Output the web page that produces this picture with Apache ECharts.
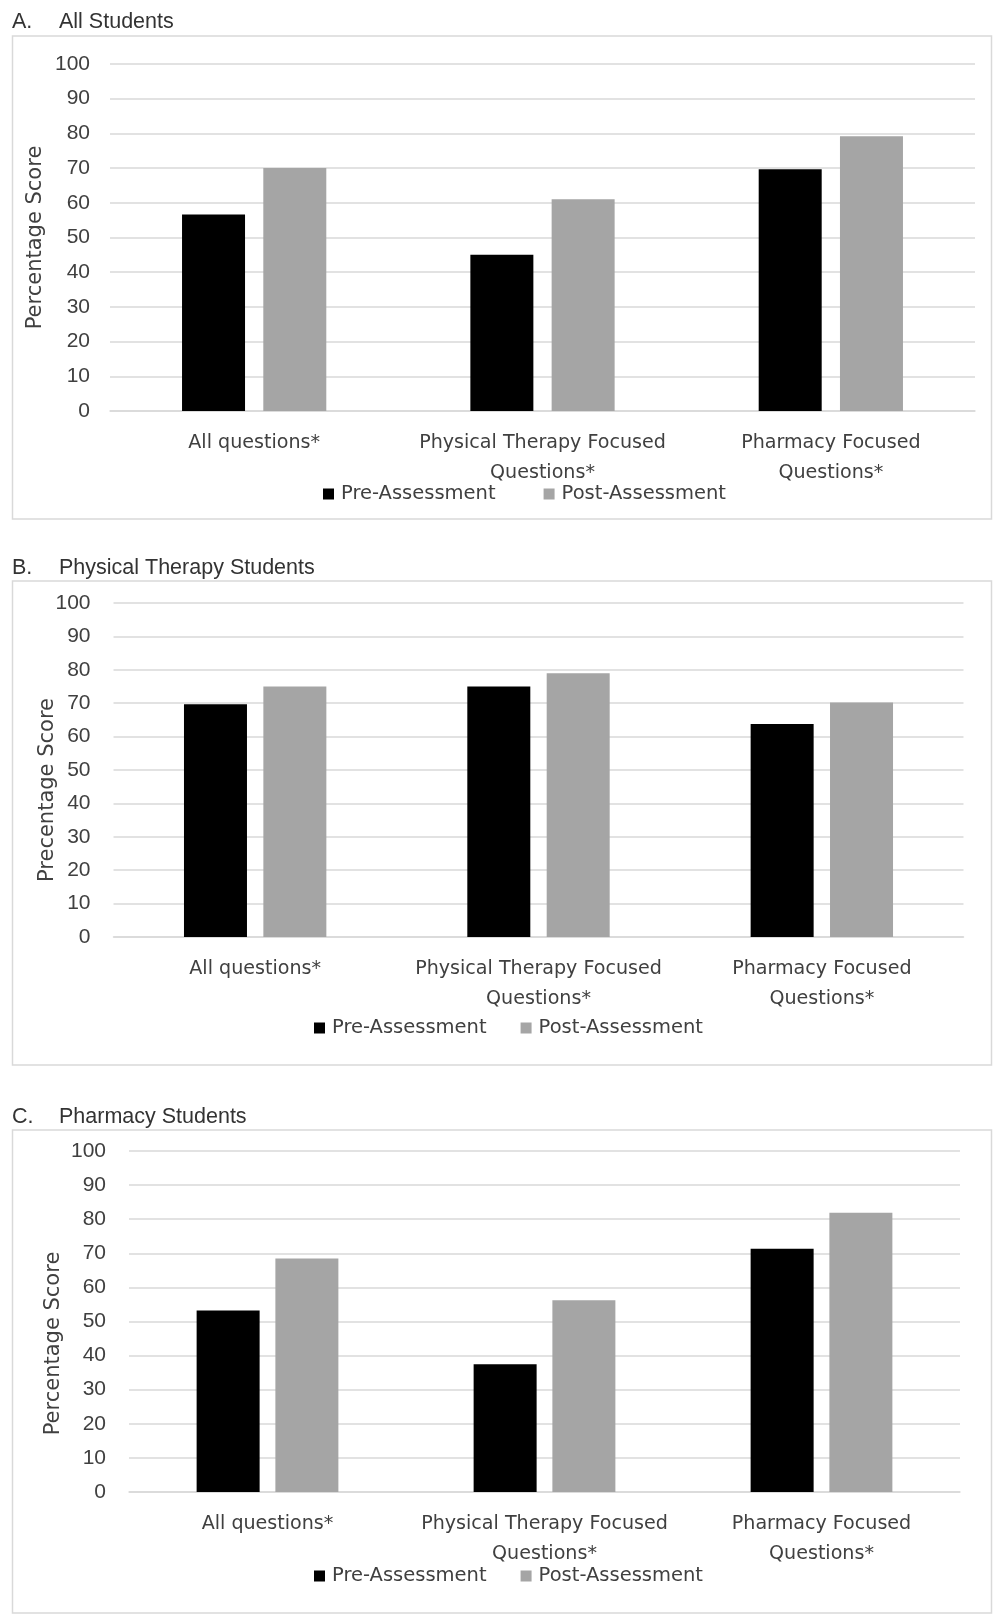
<!DOCTYPE html>
<html>
<head>
<meta charset="utf-8">
<script src="https://cdn.jsdelivr.net/npm/echarts@6/dist/echarts.min.js"></script>
<style>
html,body{margin:0;padding:0;background:#fff;}
#chart{width:993px;height:1619px;}
</style>
</head>
<body>
<div id="chart"></div>
<script>
const categories = ['All questions*', 'Physical Therapy Focused\nQuestions*', 'Pharmacy Focused\nQuestions*'];
const seriesNames = ['Pre-Assessment', 'Post-Assessment'];
const yTicks = [0, 10, 20, 30, 40, 50, 60, 70, 80, 90, 100];

const panelLetters = ['A.', 'B.', 'C.'];
const panelTitles = ['All Students', 'Physical Therapy Students', 'Pharmacy Students'];
const yAxisNames = ['Percentage Score', 'Precentage Score', 'Percentage Score'];

const allPre = [56.6, 45, 69.7];
const allPost = [70, 61, 79.2];
const ptPre = [69.7, 75, 63.8];
const ptPost = [75, 79, 70.2];
const phPre = [53.2, 37.5, 71.3];
const phPost = [68.5, 56.2, 81.9];

const panelData = [[allPre, allPost], [ptPre, ptPost], [phPre, phPost]];

// layout (pixels)
const grids = [
  {left: 110, top: 64, width: 865, height: 347},
  {left: 113.5, top: 603, width: 850, height: 334},
  {left: 129, top: 1151, width: 831, height: 341}
];
const boxes = [
  {y: 36, h: 483},
  {y: 581, h: 484},
  {y: 1130, h: 483}
];
const titleY = [11, 557, 1106];
const legendPos = [{left: 323, top: 484, gap: 48}, {left: 314, top: 1018, gap: 34}, {left: 314, top: 1566, gap: 34}];
const nameGaps = [64, 55, 65];
const namePad = [[0, 0, 0, 0], [0, 40, 0, 0], [0, 44, 0, 0]];
const barGaps = ['29%', '26%', '25%'];

const colors = ['#000000', '#a5a5a5'];
const textColor = '#404040';
const labelFont = 'DejaVu Sans';

const option = {
  animation: false,
  backgroundColor: '#fff',
  title: [],
  legend: [],
  grid: [],
  xAxis: [],
  yAxis: [],
  series: [],
  graphic: []
};

for (let i = 0; i < 3; i++) {
  option.graphic.push({
    type: 'rect',
    shape: {x: 12.5, y: boxes[i].y, width: 979, height: boxes[i].h},
    style: {fill: 'none', stroke: '#d9d9d9', lineWidth: 1.5},
    silent: true
  });
  option.title.push({
    text: panelLetters[i], left: 12, top: titleY[i], padding: 0,
    textStyle: {fontFamily: 'Liberation Sans', fontSize: 21.5, fontWeight: 'normal', color: '#333'}
  });
  option.title.push({
    text: panelTitles[i], left: 59, top: titleY[i], padding: 0,
    textStyle: {fontFamily: 'Liberation Sans', fontSize: 21.5, fontWeight: 'normal', color: '#333'}
  });
  option.grid.push(Object.assign({containLabel: false}, grids[i]));
  option.xAxis.push({
    type: 'category', gridIndex: i, data: categories,
    axisTick: {show: false},
    axisLine: {lineStyle: {color: '#d9d9d9', width: 1.5}},
    axisLabel: {
      color: textColor, fontFamily: labelFont, fontSize: 19.1,
      margin: 17, lineHeight: 30, interval: 0
    }
  });
  option.yAxis.push({
    type: 'value', gridIndex: i, min: 0, max: 100, interval: 10,
    name: yAxisNames[i], nameLocation: 'middle', nameGap: nameGaps[i],
    nameMoveOverlap: false,
    nameTextStyle: {color: textColor, fontFamily: labelFont, fontSize: 21, padding: namePad[i]},
    axisLine: {show: false}, axisTick: {show: false},
    splitLine: {lineStyle: {color: '#d9d9d9', width: 1.5}},
    axisLabel: {
      color: textColor, fontFamily: 'Liberation Sans', fontSize: 21, margin: i === 0 ? 20 : 23,
      formatter: v => yTicks.includes(v) ? String(v) : ''
    }
  });
  for (let s = 0; s < 2; s++) {
    option.series.push({
      type: 'bar', name: seriesNames[s], xAxisIndex: i, yAxisIndex: i,
      data: panelData[i][s], barWidth: 63, barGap: barGaps[i],
      itemStyle: {color: colors[s]}
    });
  }
  option.legend.push({
    data: seriesNames, left: legendPos[i].left, top: legendPos[i].top,
    icon: 'rect', itemWidth: 11, itemHeight: 11, itemGap: legendPos[i].gap, padding: 0,
    textStyle: {color: textColor, fontFamily: labelFont, fontSize: 19.5, padding: [0, 0, 0, 2]}
  });
}

const chart = echarts.init(document.getElementById('chart'), null, {renderer: 'canvas'});
chart.setOption(option);
</script>
</body>
</html>
